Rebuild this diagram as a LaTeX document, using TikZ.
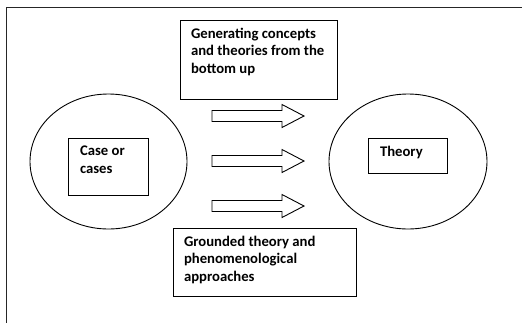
\documentclass[tikz,border=0pt]{standalone}
\usepackage{fontspec}
\setmainfont{Carlito}
\usetikzlibrary{positioning, shapes.geometric}
\tikzstyle{sheet} = [x = 1pt, y = -1pt, line width = .9pt]
\tikzstyle{frameLine} = [color=black!85, line width = .8pt]
\tikzstyle{circleStyle} = [draw, ellipse, inner sep = 0pt]
\tikzstyle{boxStyle} = [draw, rectangle, inner sep = 0pt]
\tikzstyle{boxText} = [anchor = north west, inner sep = 0pt, align = left,
  font = \fontsize{14.7}{17.5}\selectfont\bfseries]
\tikzstyle{arrowStyle} = [draw, fill=white, line width = .9pt]
\newcommand{\blockArrow}[1]{\draw [arrowStyle] (212, #1 - 5.5) -- (282, #1 - 5.5) -- (282, #1 - 11.5)
  -- (304, #1) -- (282, #1 + 11.5) -- (282, #1 + 5.5) -- (212, #1 + 5.5) -- cycle;}

\begin{document}
\begin{tikzpicture}[sheet]
  \useasboundingbox (0,0) rectangle (522,322);
  \clip (0,0) rectangle (522,322);
  \draw [frameLine] (6,7) rectangle (540,340);

  % the two ellipses
  \node [circleStyle, minimum width = 157pt, minimum height = 135pt] (cases) at (108.5,161.5) {};
  \node [circleStyle, minimum width = 158pt, minimum height = 135pt] (theory) at (408,161.5) {};

  % boxes inside the ellipses
  \node [boxStyle, minimum width = 80pt, minimum height = 57pt] (casesBox) at (108,166.5) {};
  \node [boxText] at ([shift = {(12pt,-8pt)}] casesBox.north west) {Case or\\cases};
  \node [boxStyle, minimum width = 79pt, minimum height = 35pt] (theoryBox) at (407.5,155.5) {};
  \node [boxText] at ([shift = {(12pt,-8pt)}] theoryBox.north west) {Theory};

  % boxes above and below
  \node [boxStyle, minimum width = 157pt, minimum height = 79pt] (topBox) at (258.5,59.5) {};
  \node [boxText] at ([shift = {(11pt,-8pt)}] topBox.north west) {Generating concepts\\and theories from the\\bottom up};
  \node [boxStyle, minimum width = 183pt, minimum height = 68pt] (bottomBox) at (264.5,262) {};
  \node [boxText] at ([shift = {(11pt,-8pt)}] bottomBox.north west) {Grounded theory and\\phenomenological\\approaches};

  % arrows
  \blockArrow{116}
  \blockArrow{161}
  \blockArrow{206}
\end{tikzpicture}
\end{document}
